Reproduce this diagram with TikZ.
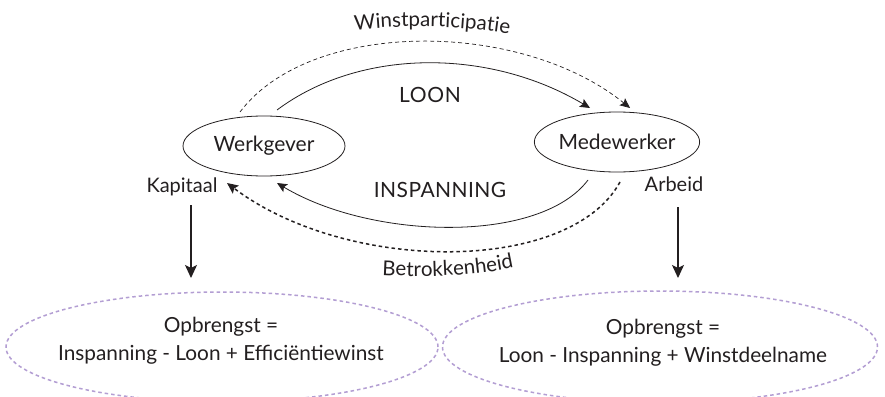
\documentclass[tikz,border=0pt]{standalone}
\usepackage{fontspec}
\setmainfont{Lato}
\usetikzlibrary{arrows.meta,shapes.geometric,decorations.text}
\definecolor{ink}{HTML}{231F20}
\definecolor{lav}{HTML}{B39ED3}
\tikzset{
  party/.style={draw=ink, line width=0.8pt, ellipse, inner sep=0pt, font=\fontsize{21}{21}\selectfont, text=ink},
  lbl/.style={font=\fontsize{20}{20}\selectfont, text=ink, inner sep=0pt},
  caps/.style={font=\fontsize{21}{21}\selectfont\addfontfeature{LetterSpace=#1}, text=ink, inner sep=0pt},
  result/.style={draw=lav, line width=1.5pt, dash pattern=on 3.5pt off 3pt, ellipse, inner sep=0pt},
  formula/.style={font=\fontsize{20.8}{28}\selectfont, text=ink, inner sep=0pt, align=center, anchor=base},
  flow/.style={draw=ink, line width=0.8pt, -{Stealth[length=10pt,width=9pt,inset=2pt]}},
  softflow/.style={draw=ink, line width=0.7pt, dash pattern=on 4pt off 3pt, -{Stealth[length=10pt,width=9pt,inset=2pt]}},
  boldflow/.style={draw=ink, line width=1.5pt, dash pattern=on 3.5pt off 3pt, -{Stealth[length=11pt,width=10pt,inset=2pt]}},
  down/.style={draw=ink, line width=1.2pt, -{Stealth[length=13pt,width=12pt,inset=3pt]}},
}
\begin{document}
\begin{tikzpicture}[x=1pt,y=-1pt]
\clip (0,0) rectangle (885,396);
\fill[white] (0,0) rectangle (885,396);

% parties
\node[party, minimum width=162pt, minimum height=60pt] (wg) at (264,146) {Werkgever};
\node[party, minimum width=162pt, minimum height=60pt] (mw) at (617,142) {Medewerker};

% side labels
\node[lbl, anchor=base] (kap) at (182,192) {Kapitaal};
\node[lbl, anchor=base] (arb) at (674,191) {Arbeid};

% result ellipses
\node[result, minimum width=432pt, minimum height=110pt] (rl) at (222,347) {};
\node[result, minimum width=435pt, minimum height=112pt] (rr) at (660,347) {};
\node[formula] (tl) at (221,360) {Opbrengst =\\Inspanning - Loon + Efficiëntiewinst};
\node[formula] (tr) at (663,362) {Opbrengst =\\Loon - Inspanning + Winstdeelname};

% coordinates for connectors
\coordinate (loonA) at (277,110);
\coordinate (loonB) at (590,108);
\coordinate (winA) at (240,112);
\coordinate (winB) at (630,108);
\coordinate (inA) at (588,180);
\coordinate (inB) at (277,183);
\coordinate (beA) at (620,182);
\coordinate (beB) at (227,183);
\coordinate (kd1) at (191,205);
\coordinate (kd2) at (191,278);
\coordinate (ad1) at (678,207);
\coordinate (ad2) at (678,278);

% connectors
\draw[flow] (loonA) .. controls (360,48) and (489,48) .. (loonB);
\draw[softflow] (winA) .. controls (310,19) and (520,19) .. (winB);
\draw[flow] (inA) .. controls (540,244) and (372,240) .. (inB);
\draw[boldflow] (beA) .. controls (570,274) and (348,274) .. (beB);
\draw[down] (kd1) -- (kd2);
\draw[down] (ad1) -- (ad2);

% connector labels
\node[caps=3] (loon) at (430,95) {LOON};
\node[caps=2] (insp) at (440,190) {INSPANNING};
\path[decorate, decoration={text along path, text align=center,
   text={|\fontsize{20.5}{20.5}\selectfont\addfontfeature{LetterSpace=3}\color{ink}|Winstparticipatie}}]
   (336,33) .. controls (390,24) and (462,24) .. (528,37);
\path[decorate, decoration={text along path, text align=center,
   text={|\fontsize{20.5}{20.5}\selectfont\addfontfeature{LetterSpace=5}\color{ink}|Betrokkenheid}}]
   (376,275) .. controls (420,278) and (480,276) .. (520,266);
\end{tikzpicture}
\end{document}
